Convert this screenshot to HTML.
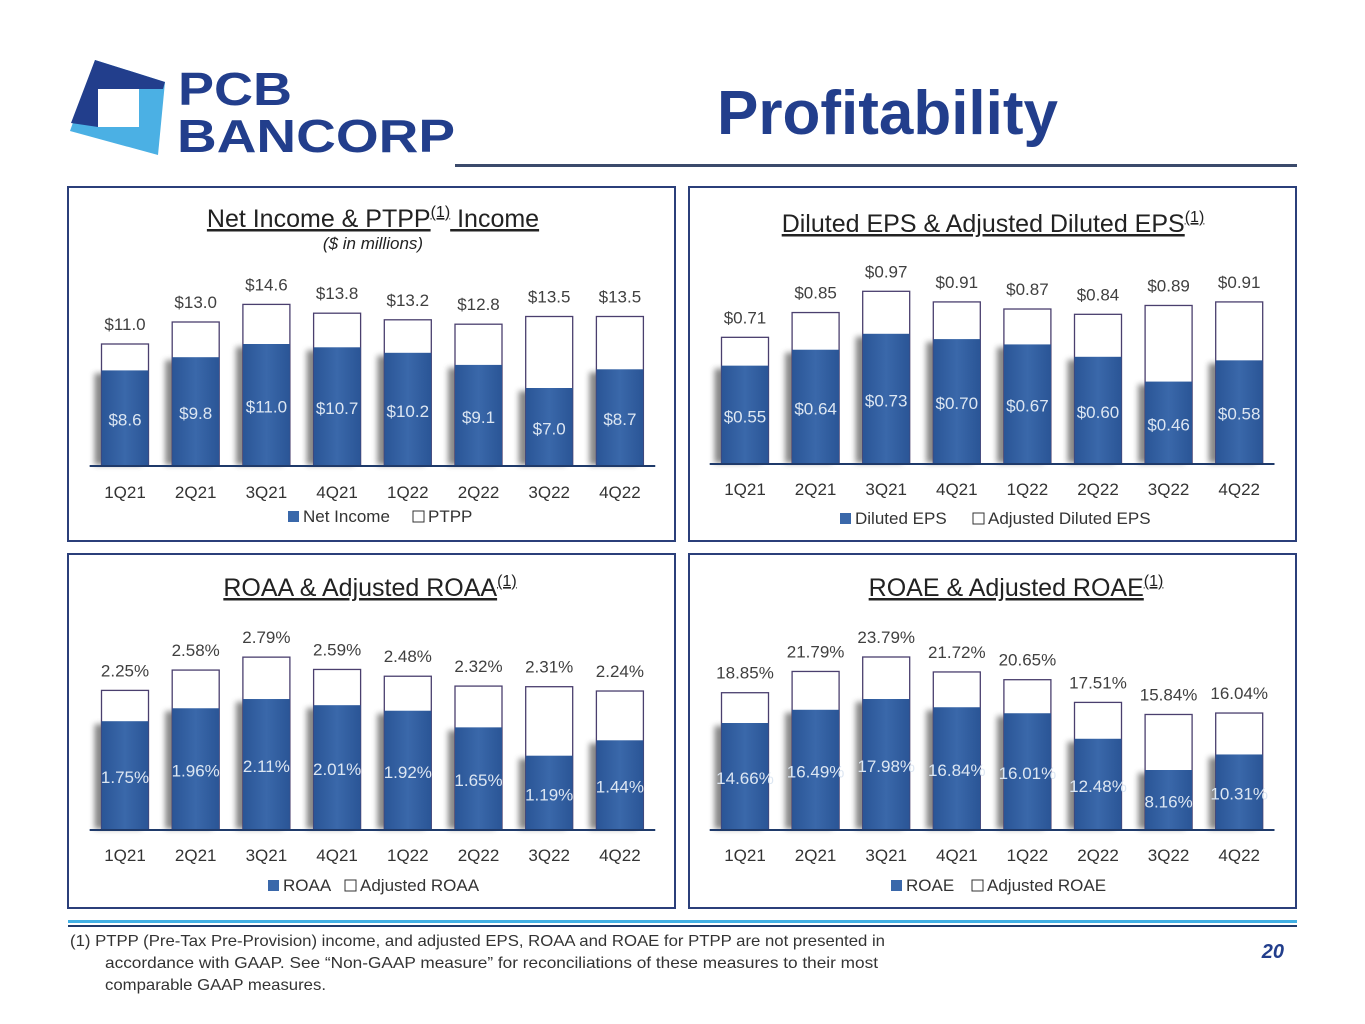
<!DOCTYPE html>
<html><head><meta charset="utf-8"><style>
body{margin:0;background:#fff;}
svg{display:block;font-family:"Liberation Sans",sans-serif;}
</style></head><body>
<svg id="page" width="1365" height="1024" viewBox="0 0 1365 1024">
<defs>
<linearGradient id="bg" x1="0" x2="1" y1="0" y2="0">
<stop offset="0" stop-color="#2a5596"/><stop offset="0.5" stop-color="#3a68aa"/><stop offset="1" stop-color="#2a5596"/>
</linearGradient>
<filter id="sh" x="-30%" y="-10%" width="160%" height="120%"><feGaussianBlur stdDeviation="3"/></filter>
</defs>
<g>
<polygon points="95,60 165,82 158,155 70,131" fill="#4bb0e4"/>
<polygon points="95,60 165,82 163,89 98,89 98,127 71,123" fill="#223e8c"/>
<rect x="98" y="89" width="41" height="38" fill="#fff"/>
<text x="178" y="105" font-size="46" font-weight="bold" fill="#223e8c" textLength="114" lengthAdjust="spacingAndGlyphs">PCB</text>
<text x="177" y="152" font-size="46" font-weight="bold" fill="#223e8c" textLength="278" lengthAdjust="spacingAndGlyphs">BANCORP</text>
</g>
<text x="1058" y="134" text-anchor="end" font-size="62" font-weight="bold" fill="#223e8c">Profitability</text>
<rect x="455" y="164" width="842" height="3" fill="#3b4a6b"/>
<g id="charts"></g>
<rect x="68" y="920" width="1229" height="3" fill="#41b0e4"/>
<rect x="68" y="925" width="1229" height="2" fill="#1f3a6a"/>
<g font-size="16" fill="#333">
<text x="70" y="946" textLength="815" lengthAdjust="spacingAndGlyphs">(1)   PTPP (Pre-Tax Pre-Provision) income, and adjusted EPS, ROAA and ROAE for PTPP are not presented in</text>
<text x="105" y="968" textLength="773" lengthAdjust="spacingAndGlyphs">accordance with GAAP. See “Non-GAAP measure” for reconciliations of these measures to their most</text>
<text x="105" y="990" textLength="221" lengthAdjust="spacingAndGlyphs">comparable GAAP measures.</text>
</g>
<text x="1284" y="958" text-anchor="end" font-size="20" font-weight="bold" font-style="italic" fill="#223e8c">20</text>
</svg>
<script>
const categories = ["1Q21","2Q21","3Q21","4Q21","1Q22","2Q22","3Q22","4Q22"];
const netIncome = [8.6,9.8,11.0,10.7,10.2,9.1,7.0,8.7];
const ptpp = [11.0,13.0,14.6,13.8,13.2,12.8,13.5,13.5];
const dilutedEps = [0.55,0.64,0.73,0.70,0.67,0.60,0.46,0.58];
const adjEps = [0.71,0.85,0.97,0.91,0.87,0.84,0.89,0.91];
const roaa = [1.75,1.96,2.11,2.01,1.92,1.65,1.19,1.44];
const adjRoaa = [2.25,2.58,2.79,2.59,2.48,2.32,2.31,2.24];
const roae = [14.66,16.49,17.98,16.84,16.01,12.48,8.16,10.31];
const adjRoae = [18.85,21.79,23.79,21.72,20.65,17.51,15.84,16.04];

const NS="http://www.w3.org/2000/svg";
const root=document.getElementById('charts');
function mk(tag,attrs,parent,txt){const e=document.createElementNS(NS,tag);for(const k in attrs)e.setAttribute(k,attrs[k]);if(txt!==undefined)e.textContent=txt;parent.appendChild(e);return e;}

function chart(o){
  const g=mk('g',{},root);
  
  
  const p=mk('rect',{x:o.px,y:o.py,width:607,height:354,fill:'#fff',stroke:'#2b3f7a','stroke-width':2},g);
  
  
  const t=mk('text',{x:o.tx,y:o.ty,'text-anchor':'middle','font-size':25,fill:'#222','text-decoration':'underline'},g);
  
  
  mk('tspan',{},t,o.title);
  mk('tspan',{'font-size':16,dy:-10},t,'(1)');
  mk('tspan',{dy:10},t,o.title2||'');
  if(o.sub){const s=mk('text',{x:o.tx,y:o.ty+22,'text-anchor':'middle','font-size':17,'font-style':'italic',fill:'#222'},g,o.sub);
    }
  const y=v=>o.base-v*o.scale;
  const x=i=>o.x0+i*o.step;
  const w=47;
  categories.forEach((c,i)=>{
    const cx=x(i);
    const sh=mk('rect',{x:cx-w/2-7,y:y(o.inner[i])+3,width:w,height:o.base-y(o.inner[i])-3,fill:'#555',opacity:0.7,filter:'url(#sh)'},g);
    
    const ob=mk('rect',{x:cx-w/2,y:y(o.outer[i]),width:w,height:o.base-y(o.outer[i]),fill:'#fff',stroke:'#4a3f6e','stroke-width':1.3},g);
    
    const ib=mk('rect',{x:cx-w/2,y:y(o.inner[i]),width:w,height:o.base-y(o.inner[i]),fill:'url(#bg)'},g);
    
    const tl=mk('text',{x:cx,y:y(o.outer[i])-14,'text-anchor':'middle','font-size':17,fill:'#404040'},g,o.fmt(o.outer[i]));
    
    const il=mk('text',{x:cx,y:(y(o.inner[i])+o.base)/2+8,'text-anchor':'middle','font-size':17,fill:'#dce6f2'},g,o.fmt(o.inner[i]));
    
    const xl=mk('text',{x:cx,y:o.xly,'text-anchor':'middle','font-size':17,fill:'#333'},g,c);
    
  });
  const ax=mk('rect',{x:o.x0-o.step/2,y:o.base,width:o.step*8,height:2,fill:'#1f3a6a'},g);
  
  const lg=mk('g',{},g);
  
  const l1=mk('rect',{x:o.lx,y:o.ly-11,width:11,height:11,fill:'#3a68aa'},lg);
  
  const t1=mk('text',{x:o.lx+15,y:o.ly,'font-size':17,fill:'#333'},lg,o.l1);
  
  const l2x=o.lx+15+o.l1w;
  const l2=mk('rect',{x:l2x,y:o.ly-11,width:11,height:11,fill:'#fff',stroke:'#333'},lg);
  
  const t2=mk('text',{x:l2x+15,y:o.ly,'font-size':17,fill:'#333'},lg,o.l2);
  
}
chart({name:'net-income-chart',px:68,py:187,tx:373,ty:227,title:'Net Income & PTPP',title2:' Income',sub:'($ in millions)',
  base:465,scale:11,x0:125,step:70.7,inner:netIncome,outer:ptpp,innerKey:'net-income',outerKey:'ptpp',
  fmt:v=>'$'+v.toFixed(1),xly:498,lx:288,ly:522,l1:'Net Income',l1w:110,l2:'PTPP'});
chart({name:'eps-chart',px:689,py:187,tx:993,ty:232,title:'Diluted EPS & Adjusted Diluted EPS',
  base:463,scale:177,x0:745,step:70.6,inner:dilutedEps,outer:adjEps,innerKey:'diluted-eps',outerKey:'adj-eps',
  fmt:v=>'$'+v.toFixed(2),xly:495,lx:840,ly:524,l1:'Diluted EPS',l1w:118,l2:'Adjusted Diluted EPS'});
chart({name:'roaa-chart',px:68,py:554,tx:370,ty:596,title:'ROAA & Adjusted ROAA',
  base:829,scale:61.6,x0:125,step:70.7,inner:roaa,outer:adjRoaa,innerKey:'roaa',outerKey:'adj-roaa',
  fmt:v=>v.toFixed(2)+'%',xly:861,lx:268,ly:891,l1:'ROAA',l1w:62,l2:'Adjusted ROAA'});
chart({name:'roae-chart',px:689,py:554,tx:1016,ty:596,title:'ROAE & Adjusted ROAE',
  base:829,scale:7.23,x0:745,step:70.6,inner:roae,outer:adjRoae,innerKey:'roae',outerKey:'adj-roae',
  fmt:v=>v.toFixed(2)+'%',xly:861,lx:891,ly:891,l1:'ROAE',l1w:66,l2:'Adjusted ROAE'});
</script>
</body></html>
